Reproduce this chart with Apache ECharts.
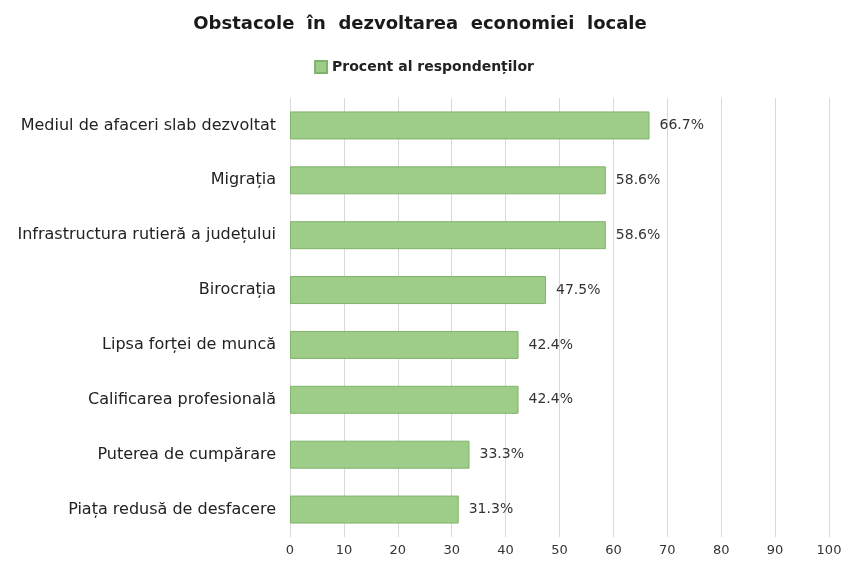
<!DOCTYPE html>
<html>
<head>
<meta charset="utf-8">
<script src="https://cdn.jsdelivr.net/npm/echarts@6/dist/echarts.min.js"></script>
<style>html,body{margin:0;padding:0;background:#fff}#c{width:848px;height:566px}</style>
</head>
<body>
<div id="c"></div>
<script>
const categories = [
  "Mediul de afaceri slab dezvoltat",
  "Migrația",
  "Infrastructura rutieră a județului",
  "Birocrația",
  "Lipsa forței de muncă",
  "Calificarea profesională",
  "Puterea de cumpărare",
  "Piața redusă de desfacere"
];
const values = [66.7, 58.6, 58.6, 47.5, 42.4, 42.4, 33.3, 31.3];
const seriesName = "Procent al respondenților";
const titleText = "Obstacole  în  dezvoltarea  economiei  locale";

const chart = echarts.init(document.getElementById('c'));
chart.setOption({
  animation: false,
  backgroundColor: '#fff',
  title: {
    text: titleText,
    left: 415, top: 10, textAlign: 'center',
    textStyle: {fontFamily: 'DejaVu Sans', fontWeight: 'bold', fontSize: 18, color: '#1a1a1a'}
  },
  legend: {
    data: [seriesName],
    left: 'center', top: 55,
    itemWidth: 12, itemHeight: 12, itemGap: 4,
    icon: 'rect',
    textStyle: {fontFamily: 'DejaVu Sans', fontSize: 14, color: '#222', fontWeight: 'bold'}
  },
  grid: {left: 290, right: 19, top: 98, bottom: 29, containLabel: false},
  xAxis: {
    type: 'value', min: 0, max: 100, interval: 10,
    axisLine: {show: false}, axisTick: {show: false},
    splitLine: {show: true, lineStyle: {color: '#d9d9d9', width: 1}},
    axisLabel: {margin: 7, fontFamily: 'DejaVu Sans', fontSize: 13, color: '#333'}
  },
  yAxis: {
    type: 'category', data: categories, inverse: true,
    axisLine: {show: false}, axisTick: {show: false},
    axisLabel: {margin: 14, fontFamily: 'DejaVu Sans', fontSize: 16, color: '#222'}
  },
  series: [{
    name: seriesName, type: 'bar', data: values,
    barWidth: '51%',
    itemStyle: {color: '#9dcd88', borderColor: '#80b36a', borderWidth: 1},
    label: {
      show: true, position: 'right', distance: 10,
      formatter: p => p.value.toFixed(1) + '%',
      fontFamily: 'DejaVu Sans', fontSize: 14, color: '#333'
    }
  }]
});
</script>
</body>
</html>
